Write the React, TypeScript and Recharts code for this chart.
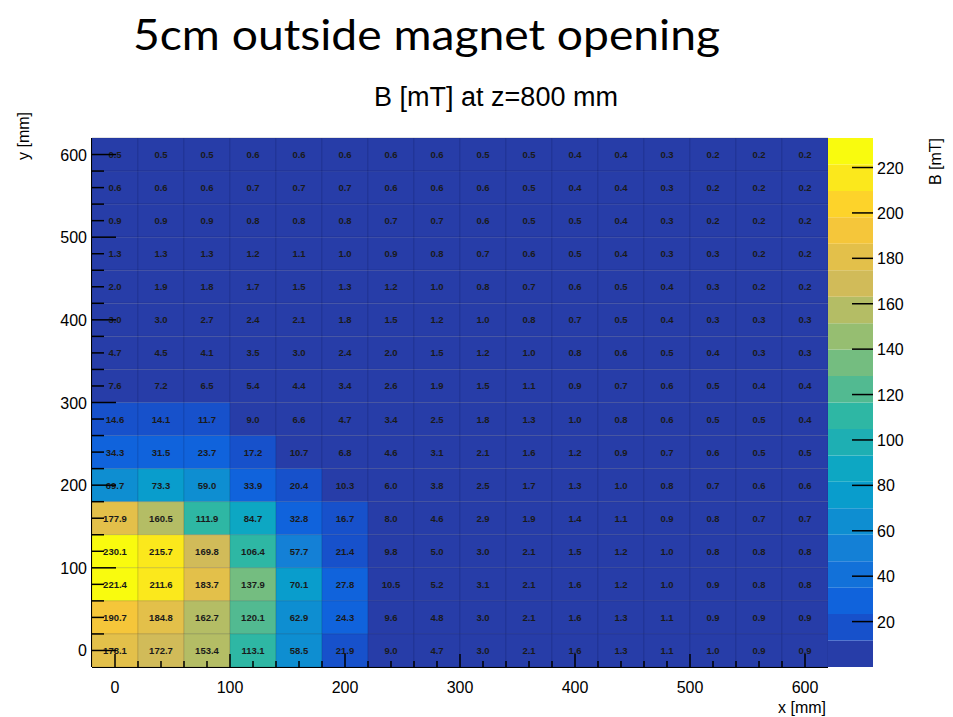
import { ScatterChart, Scatter, XAxis, YAxis, BarChart, Bar, ReferenceLine } from 'recharts'

// cell centres in mm
const X_CENTERS = [0, 40, 80, 120, 160, 200, 240, 280, 320, 360, 400, 440, 480, 520, 560, 600]
const Y_CENTERS = [600, 560, 520, 480, 440, 400, 360, 320, 280, 240, 200, 160, 120, 80, 40, 0]

// B [mT], one row per y (top to bottom), one column per x
const FIELD_MT = [
  [0.5, 0.5, 0.5, 0.6, 0.6, 0.6, 0.6, 0.6, 0.5, 0.5, 0.4, 0.4, 0.3, 0.2, 0.2, 0.2],
  [0.6, 0.6, 0.6, 0.7, 0.7, 0.7, 0.6, 0.6, 0.6, 0.5, 0.4, 0.4, 0.3, 0.2, 0.2, 0.2],
  [0.9, 0.9, 0.9, 0.8, 0.8, 0.8, 0.7, 0.7, 0.6, 0.5, 0.5, 0.4, 0.3, 0.2, 0.2, 0.2],
  [1.3, 1.3, 1.3, 1.2, 1.1, 1.0, 0.9, 0.8, 0.7, 0.6, 0.5, 0.4, 0.3, 0.3, 0.2, 0.2],
  [2.0, 1.9, 1.8, 1.7, 1.5, 1.3, 1.2, 1.0, 0.8, 0.7, 0.6, 0.5, 0.4, 0.3, 0.2, 0.2],
  [3.0, 3.0, 2.7, 2.4, 2.1, 1.8, 1.5, 1.2, 1.0, 0.8, 0.7, 0.5, 0.4, 0.3, 0.3, 0.3],
  [4.7, 4.5, 4.1, 3.5, 3.0, 2.4, 2.0, 1.5, 1.2, 1.0, 0.8, 0.6, 0.5, 0.4, 0.3, 0.3],
  [7.6, 7.2, 6.5, 5.4, 4.4, 3.4, 2.6, 1.9, 1.5, 1.1, 0.9, 0.7, 0.6, 0.5, 0.4, 0.4],
  [14.6, 14.1, 11.7, 9.0, 6.6, 4.7, 3.4, 2.5, 1.8, 1.3, 1.0, 0.8, 0.6, 0.5, 0.5, 0.4],
  [34.3, 31.5, 23.7, 17.2, 10.7, 6.8, 4.6, 3.1, 2.1, 1.6, 1.2, 0.9, 0.7, 0.6, 0.5, 0.5],
  [69.7, 73.3, 59.0, 33.9, 20.4, 10.3, 6.0, 3.8, 2.5, 1.7, 1.3, 1.0, 0.8, 0.7, 0.6, 0.6],
  [177.9, 160.5, 111.9, 84.7, 32.8, 16.7, 8.0, 4.6, 2.9, 1.9, 1.4, 1.1, 0.9, 0.8, 0.7, 0.7],
  [230.1, 215.7, 169.8, 106.4, 57.7, 21.4, 9.8, 5.0, 3.0, 2.1, 1.5, 1.2, 1.0, 0.8, 0.8, 0.8],
  [221.4, 211.6, 183.7, 137.9, 70.1, 27.8, 10.5, 5.2, 3.1, 2.1, 1.6, 1.2, 1.0, 0.9, 0.8, 0.8],
  [190.7, 184.8, 162.7, 120.1, 62.9, 24.3, 9.6, 4.8, 3.0, 2.1, 1.6, 1.3, 1.1, 0.9, 0.9, 0.9],
  [178.1, 172.7, 153.4, 113.1, 58.5, 21.9, 9.0, 4.7, 3.0, 2.1, 1.6, 1.3, 1.1, 1.0, 0.9, 0.9],
]

const X_TICKS = [0, 20, 40, 60, 80, 100, 120, 140, 160, 180, 200, 220, 240, 260, 280, 300, 320, 340, 360, 380, 400, 420, 440, 460, 480, 500, 520, 540, 560, 580, 600]
const Y_TICKS = [0, 20, 40, 60, 80, 100, 120, 140, 160, 180, 200, 220, 240, 260, 280, 300, 320, 340, 360, 380, 400, 420, 440, 460, 480, 500, 520, 540, 560, 580, 600]
const Z_TICKS = [20, 40, 60, 80, 100, 120, 140, 160, 180, 200, 220]

const Z_MAX = 233
const N_LEVELS = 20

// ROOT kBird palette stops
const BIRD_R = [0.2082, 0.0592, 0.078, 0.0232, 0.1802, 0.5301, 0.8186, 0.9956, 0.9764]
const BIRD_G = [0.1664, 0.3599, 0.5041, 0.6419, 0.7178, 0.7492, 0.7328, 0.7862, 0.9832]
const BIRD_B = [0.5293, 0.8684, 0.8385, 0.7914, 0.6425, 0.4662, 0.3499, 0.1968, 0.0539]

const FONT = '"Liberation Sans", Arial, sans-serif'

// plot geometry (px)
const CHART_W = 953
const CHART_H = 717
const MARGIN = { top: 138, right: 125, bottom: 0, left: 32 }
const Y_AXIS_W = 60
const X_AXIS_H = 50
const PLOT_W = CHART_W - MARGIN.left - MARGIN.right - Y_AXIS_W
const PLOT_H = CHART_H - MARGIN.top - MARGIN.bottom - X_AXIS_H
const CELL_W = PLOT_W / X_CENTERS.length
const CELL_H = PLOT_H / Y_CENTERS.length

function birdColor(t: number) {
  const pos = Math.min(Math.max(t, 0), 1) * (BIRD_R.length - 1)
  const i = Math.min(Math.floor(pos), BIRD_R.length - 2)
  const f = pos - i
  const ch = (a: number[]) => Math.round(255 * (a[i] + (a[i + 1] - a[i]) * f))
  return `rgb(${ch(BIRD_R)},${ch(BIRD_G)},${ch(BIRD_B)})`
}

function levelColor(k: number) {
  return birdColor(Math.floor((k + 0.99) * 12.75) / 254)
}

function valueColor(v: number) {
  const k = Math.min(N_LEVELS - 1, Math.max(0, Math.floor((v / Z_MAX) * N_LEVELS)))
  return levelColor(k)
}

const cells = Y_CENTERS.flatMap((y, i) => X_CENTERS.map((x, j) => ({ x, y, b: FIELD_MT[i][j] })))

const bandRow: Record<string, number | string> = { name: 'z' }
for (let k = 0; k < N_LEVELS; k++) bandRow['l' + k] = Z_MAX / N_LEVELS

const Cell = (p: any) => {
  const { cx, cy, payload } = p
  return (
    <g>
      <rect
        x={cx - CELL_W / 2}
        y={cy - CELL_H / 2}
        width={CELL_W}
        height={CELL_H}
        fill={valueColor(payload.b)}
        stroke="rgba(0,0,40,0.12)"
        strokeWidth={1}
      />
      <text x={cx} y={cy + 3.5} textAnchor="middle" fontSize={9.5} fontWeight="bold" fontFamily={FONT} fill="#1a1a1a">
        {payload.b.toFixed(1)}
      </text>
    </g>
  )
}

const XTick = (p: any) => {
  const v = p.payload.value
  const major = v % 100 === 0
  return (
    <g>
      <line x1={p.x} x2={p.x} y1={p.y} y2={p.y - (major ? 13 : 6)} stroke="#000" strokeWidth={1.5} />
      {major && (
        <text x={p.x} y={p.y + 26} textAnchor="middle" fontSize={16} fontFamily={FONT} fill="#000">
          {v}
        </text>
      )}
    </g>
  )
}

const YTick = (p: any) => {
  const v = p.payload.value
  const major = v % 100 === 0
  return (
    <g>
      <line x1={p.x} x2={p.x + (major ? 24 : 12)} y1={p.y} y2={p.y} stroke="#000" strokeWidth={1.5} />
      {major && (
        <text x={p.x - 5} y={p.y + 6} textAnchor="end" fontSize={16} fontFamily={FONT} fill="#000">
          {v}
        </text>
      )}
    </g>
  )
}

const ZTick = (p: any) => (
  <g>
    <line x1={p.x - 21} x2={p.x} y1={p.y} y2={p.y} stroke="#000" strokeWidth={1.5} />
    <text x={p.x + 4} y={p.y + 6} textAnchor="start" fontSize={16} fontFamily={FONT} fill="#000">
      {p.payload.value}
    </text>
  </g>
)

export default function App() {
  return (
    <div style={{ position: 'absolute', left: 0, top: 0, width: CHART_W, height: CHART_H, background: '#fff', fontFamily: FONT }}>
      <div style={{ position: 'absolute', left: 0, top: 0 }}>
        <ScatterChart width={CHART_W} height={CHART_H} margin={MARGIN}>
          <Scatter data={cells} dataKey="y" shape={Cell} isAnimationActive={false} />
          <ReferenceLine y={620} stroke="#c8c8c8" strokeWidth={1} />
          <XAxis
            type="number"
            dataKey="x"
            domain={[-20, 620]}
            ticks={X_TICKS}
            interval={0}
            height={X_AXIS_H}
            tickSize={0}
            tickMargin={0}
            tick={XTick}
            axisLine={{ stroke: '#000', strokeWidth: 2 }}
            allowDataOverflow
          />
          <YAxis
            type="number"
            dataKey="y"
            domain={[-20, 620]}
            ticks={Y_TICKS}
            interval={0}
            width={Y_AXIS_W}
            tickSize={0}
            tickMargin={0}
            tick={YTick}
            axisLine={{ stroke: '#000', strokeWidth: 2 }}
            allowDataOverflow
          />
        </ScatterChart>
      </div>

      <div style={{ position: 'absolute', left: MARGIN.left + Y_AXIS_W + PLOT_W, top: MARGIN.top }}>
        <BarChart
          width={95}
          height={PLOT_H}
          data={[bandRow]}
          margin={{ top: 0, right: 0, bottom: 0, left: 0 }}
          barCategoryGap={0}
          barGap={0}
        >
          <XAxis dataKey="name" hide />
          <YAxis
            orientation="right"
            type="number"
            domain={[0, Z_MAX]}
            ticks={Z_TICKS}
            interval={0}
            width={50}
            tickSize={0}
            tickMargin={0}
            tick={ZTick}
            axisLine={false}
            allowDataOverflow
          />
          {Array.from({ length: N_LEVELS }, (_, k) => (
            <Bar key={k} dataKey={'l' + k} stackId="z" fill={levelColor(k)} isAnimationActive={false} />
          ))}
        </BarChart>
      </div>

      <svg width={CHART_W} height={CHART_H} style={{ position: 'absolute', left: 0, top: 0, pointerEvents: 'none' }}>
        <text
          x={133}
          y={50}
          fontSize={42}
          textLength={587}
          lengthAdjust="spacingAndGlyphs"
          fontFamily='Lato, "Open Sans", sans-serif'
          fill="#000"
        >
          5cm outside magnet opening
        </text>
        <text x={496} y={106} textAnchor="middle" fontSize={27} fontFamily={FONT} fill="#000">
          B [mT] at z=800 mm
        </text>
        <text x={29} y={112} transform="rotate(-90 29 112)" textAnchor="end" fontSize={16} fontFamily={FONT} fill="#000">
          y [mm]
        </text>
        <text x={941} y={138} transform="rotate(-90 941 138)" textAnchor="end" fontSize={16} fontFamily={FONT} fill="#000">
          B [mT]
        </text>
        <text x={826} y={713} textAnchor="end" fontSize={16} fontFamily={FONT} fill="#000">
          x [mm]
        </text>
      </svg>
    </div>
  )
}
